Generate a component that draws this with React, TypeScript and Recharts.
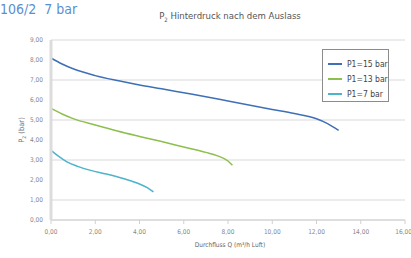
import { LineChart, Line, XAxis, YAxis, CartesianGrid } from 'recharts';

// Durchfluss Q (m³/h Luft) vs P2 (bar)
const q15 = [0, 0.5, 1, 2, 3, 4, 5, 6, 7, 8, 9, 10, 11, 12, 12.5, 13];
const p15 = [8.1, 7.8, 7.56, 7.22, 6.97, 6.75, 6.56, 6.36, 6.16, 5.95, 5.74, 5.53, 5.32, 5.06, 4.82, 4.48];

const q13 = [0, 0.5, 1, 2, 3, 4, 5, 6, 7, 7.5, 8, 8.2];
const p13 = [5.58, 5.3, 5.07, 4.75, 4.45, 4.18, 3.92, 3.65, 3.38, 3.22, 2.95, 2.74];

const q7 = [0, 0.35, 0.7, 1.2, 1.8, 2.5, 3.3, 4.0, 4.35, 4.63];
const p7 = [3.48, 3.18, 2.92, 2.68, 2.48, 2.3, 2.06, 1.8, 1.62, 1.41];

const xTicks = [0, 2, 4, 6, 8, 10, 12, 14, 16];
const yTicks = [0, 1, 2, 3, 4, 5, 6, 7, 8, 9];

const seriesNames = ['P1=15 bar', 'P1=13 bar', 'P1=7 bar'];
const colors = ['#3e70b6', '#8dbf4e', '#4eb3cc'];

const toRows = (xs: number[], ys: number[]) => xs.map((q, i) => ({ q, p: ys[i] }));
const series = [toRows(q15, p15), toRows(q13, p13), toRows(q7, p7)];

const fmt = (v: number) => v.toFixed(2).replace('.', ',');
const font = '"DejaVu Sans Condensed", "Liberation Sans Narrow", "Liberation Sans", sans-serif';

const App = () => {
  return (
    <div style={{ position: 'absolute', left: 0, top: 0, width: 411, height: 258, background: '#fff', fontFamily: font, overflow: 'hidden' }}>
      <LineChart width={411} height={258} margin={{ top: 40, right: 6, bottom: 8, left: 21 }}>
        <CartesianGrid vertical={false} stroke="#d9d9d9" strokeWidth={1} />
        <XAxis
          type="number"
          dataKey="q"
          domain={[0, 16]}
          ticks={xTicks}
          tickFormatter={fmt}
          height={30}
          tick={{ fontSize: 6.5, fill: '#888', fontFamily: font, dy: 3 }}
          stroke="#d0d0d0"
          tickSize={4}
          allowDuplicatedCategory={false}
        />
        <YAxis
          type="number"
          domain={[0, 9]}
          ticks={yTicks}
          tickFormatter={fmt}
          width={30}
          tick={{ fontSize: 6.5, fill: '#888', fontFamily: font }}
          stroke="#dcdcdc"
          strokeWidth={3}
          tickLine={false}
        />
        {series.map((rows, i) => (
          <Line
            key={seriesNames[i]}
            data={rows}
            dataKey="p"
            name={seriesNames[i]}
            type="monotone"
            stroke={colors[i]}
            strokeWidth={1.5}
            dot={false}
            isAnimationActive={false}
          />
        ))}
      </LineChart>
      <div style={{ position: 'absolute', left: 0, top: 1, fontSize: 14, lineHeight: '16px', color: '#5b8fcf', whiteSpace: 'nowrap' }}>
        106/2<span style={{ marginLeft: 8 }}>7 bar</span>
      </div>
      <div style={{ position: 'absolute', left: 0, width: 460, top: 10, textAlign: 'center', fontSize: 9.5, color: '#555', whiteSpace: 'nowrap' }}>
        P<sub style={{ fontSize: 6 }}>2</sub> Hinterdruck nach dem Auslass
      </div>
      <div
        style={{
          position: 'absolute',
          left: 22,
          top: 130,
          transform: 'translate(-50%, -50%) rotate(-90deg)',
          fontSize: 7.5,
          color: '#777',
          whiteSpace: 'nowrap',
        }}
      >
        P<sub style={{ fontSize: 5 }}>2</sub> (bar)
      </div>
      <div style={{ position: 'absolute', left: 0, width: 460, top: 241, textAlign: 'center', fontSize: 6.5, color: '#666', whiteSpace: 'nowrap' }}>
        Durchfluss Q (m³/h Luft)
      </div>
      <div
        style={{
          position: 'absolute',
          left: 322,
          top: 49,
          border: '1px solid #8c8c8c',
          background: '#fff',
          width: 67,
          height: 53,
          boxSizing: 'border-box',
          padding: '6px 0 0 5px',
          fontSize: 8.5,
          color: '#444',
          whiteSpace: 'nowrap',
        }}
      >
        {seriesNames.map((name, i) => (
          <div key={name} style={{ display: 'flex', alignItems: 'center', height: 15 }}>
            <span style={{ display: 'inline-block', width: 14, height: 2, background: colors[i], marginRight: 5 }} />
            {name}
          </div>
        ))}
      </div>
    </div>
  );
};

export default App;
